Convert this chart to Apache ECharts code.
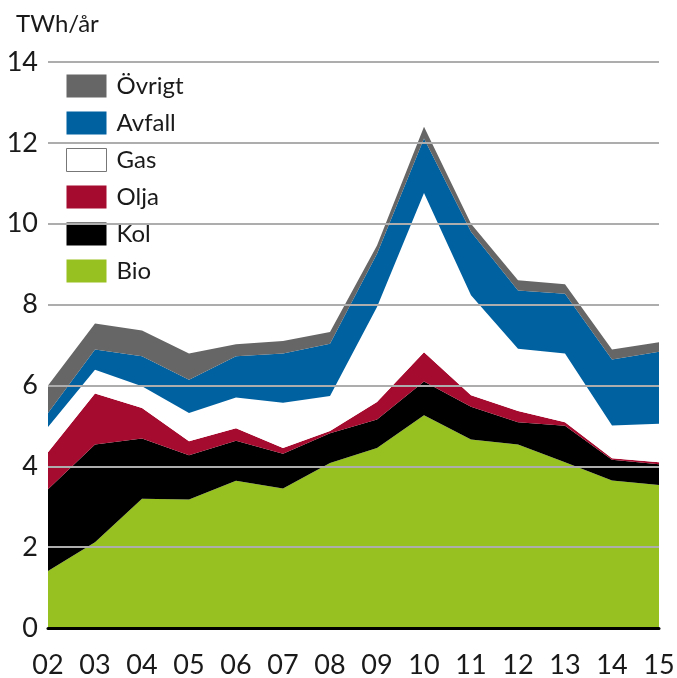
<!DOCTYPE html>
<html>
<head>
<meta charset="utf-8">
<script src="https://cdn.jsdelivr.net/npm/echarts@6/dist/echarts.min.js"></script>
<style>
  html, body { margin: 0; padding: 0; background: #fff; }
  #main { width: 677px; height: 678px; }
</style>
</head>
<body>
<div id="main"></div>
<script>
// 年份（x轴）
var years = ['02', '03', '04', '05', '06', '07', '08', '09', '10', '11', '12', '13', '14', '15'];

// 各燃料 TWh/år，从下往上堆叠
var bio    = [1.41, 2.12, 3.20, 3.18, 3.64, 3.45, 4.08, 4.45, 5.26, 4.66, 4.54, 4.10, 3.65, 3.54];
var kol    = [2.02, 2.42, 1.49, 1.09, 0.99, 0.86, 0.74, 0.71, 0.84, 0.81, 0.55, 0.90, 0.51, 0.51];
var olja   = [0.92, 1.26, 0.75, 0.35, 0.31, 0.14, 0.05, 0.43, 0.72, 0.29, 0.28, 0.09, 0.04, 0.05];
var gas    = [0.62, 0.59, 0.54, 0.70, 0.76, 1.12, 0.87, 2.35, 3.94, 2.47, 1.54, 1.70, 0.81, 0.95];
var avfall = [0.35, 0.50, 0.74, 0.82, 1.02, 1.22, 1.29, 1.32, 1.35, 1.57, 1.44, 1.48, 1.63, 1.78];
var ovrigt = [0.68, 0.64, 0.64, 0.65, 0.30, 0.31, 0.29, 0.20, 0.29, 0.20, 0.25, 0.23, 0.25, 0.24];

var yTicks = ['0', '2', '4', '6', '8', '10', '12', '14'];

var font = 'Lato';

function area(name, data, color) {
  return {
    name: name,
    type: 'line',
    stack: 'total',
    data: data,
    showSymbol: false,
    symbol: 'none',
    lineStyle: { width: 0 },
    itemStyle: { color: color },
    areaStyle: { color: color, opacity: 1 },
    emphasis: { disabled: true }
  };
}

var myChart = echarts.init(document.getElementById('main'));

var option = {
  animation: false,
  backgroundColor: '#fff',
  textStyle: { fontFamily: font },
  title: {
    text: 'TWh/år',
    left: 11,
    top: 7,
    textStyle: { fontFamily: font, fontWeight: 'normal', fontSize: 24, color: '#1a1a1a' }
  },
  legend: {
    orient: 'vertical',
    left: 66,
    top: 74,
    padding: 0,
    icon: 'rect',
    itemWidth: 40,
    itemHeight: 23,
    itemGap: 13,
    selectedMode: false,
    textStyle: { fontFamily: font, fontSize: 24, lineHeight: 23, color: '#1a1a1a', padding: [0, 0, 0, 5] },
    data: [
      { name: 'Övrigt' },
      { name: 'Avfall' },
      { name: 'Gas', itemStyle: { color: '#fff', borderColor: '#777', borderWidth: 1 } },
      { name: 'Olja' },
      { name: 'Kol' },
      { name: 'Bio' }
    ]
  },
  grid: {
    left: 48,
    right: 18,
    top: 62,
    bottom: 50,
    outerBoundsMode: 'none'
  },
  xAxis: {
    type: 'category',
    data: years,
    boundaryGap: false,
    z: 6,
    axisLine: { show: true, lineStyle: { color: '#000', width: 3 } },
    axisTick: { show: false },
    axisLabel: { color: '#1a1a1a', fontSize: 27, fontFamily: font, margin: 24 }
  },
  yAxis: {
    type: 'value',
    min: 0,
    max: 14,
    interval: 2,
    z: 5,
    axisLine: { show: false },
    axisTick: { show: false },
    axisLabel: {
      color: '#1a1a1a', fontSize: 27, fontFamily: font, margin: 10,
      formatter: function (v) { return yTicks[v / 2]; }
    },
    splitLine: { lineStyle: { color: '#adadad', width: 2 } }
  },
  series: [
    area('Bio', bio, '#97c021'),
    area('Kol', kol, '#000000'),
    area('Olja', olja, '#a50b2e'),
    area('Gas', gas, '#ffffff'),
    area('Avfall', avfall, '#0061a1'),
    area('Övrigt', ovrigt, '#666666')
  ]
};

myChart.setOption(option);
</script>
</body>
</html>
